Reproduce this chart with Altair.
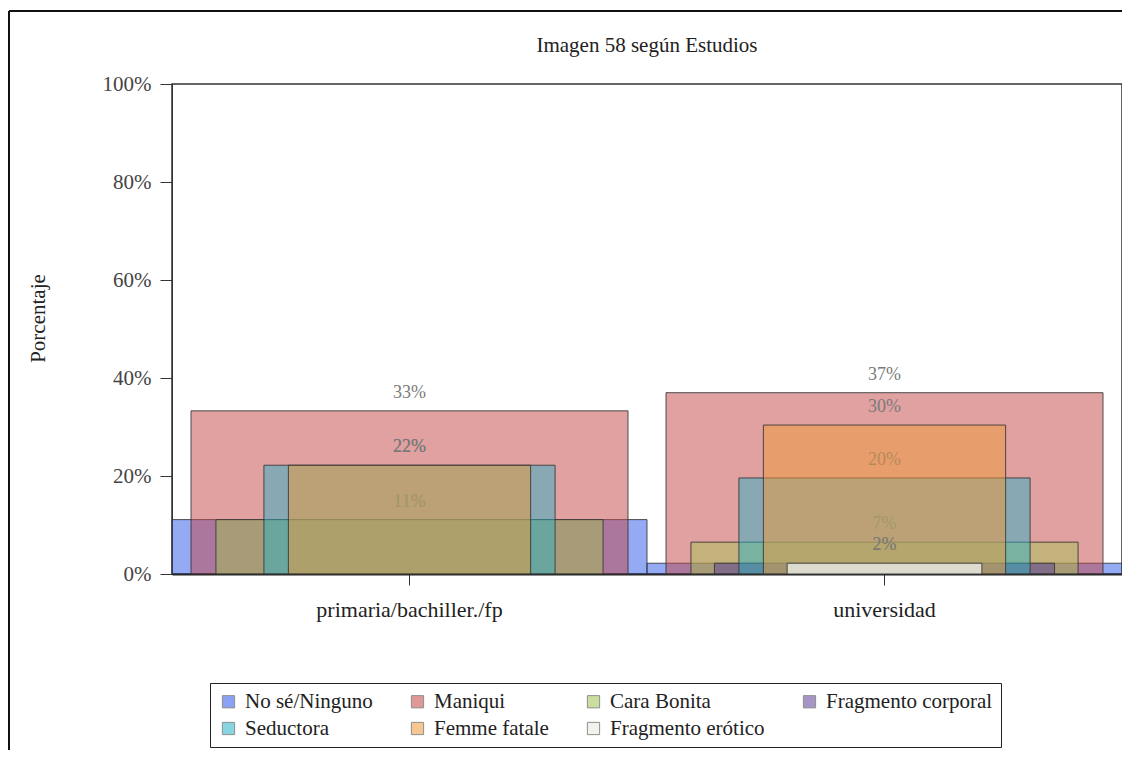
import altair as alt
import pandas as pd

# ---- data ----
groups = ["primaria/bachiller./fp", "universidad"]
series = ["No sé/Ninguno", "Maniqui", "Cara Bonita", "Fragmento corporal",
          "Seductora", "Femme fatale", "Fragmento erótico"]
pct_primaria = [11.1, 33.3, 11.1, 0.0, 22.2, 22.2, 0.0]
pct_universidad = [2.2, 37.0, 6.5, 2.2, 19.6, 30.4, 2.2]
y_ticks = [0, 20, 40, 60, 80, 100]

# ---- styles ----
colors = ["#2a57ea", "#c44444", "#a4c452", "#5e4096", "#28b2c8", "#f09a38", "#e6e8de"]
band_fraction = [1.0, 0.92, 0.815, 0.716, 0.613, 0.51, 0.41]
fill_opacity = [0.5, 0.5, 0.48, 0.5, 0.48, 0.5, 0.85]
FONT = "'Liberation Serif', 'Times New Roman', Times, serif"

rows = []
for g, vals in zip(groups, [pct_primaria, pct_universidad]):
    for s, v in zip(series, vals):
        rows.append({"Estudios": g, "Imagen": s, "Porcentaje": v})
df = pd.DataFrame(rows)

x_enc = alt.X(
    "Estudios:N", sort=groups,
    scale=alt.Scale(paddingInner=0, paddingOuter=0),
    axis=alt.Axis(title=None, labelAngle=0, labelFontSize=22, labelColor="#222",
                  labelFont=FONT, tickSize=11, tickColor="#333", labelPadding=14,
                  labelLimit=500, domainColor="#222", domainWidth=2),
)
y_enc = alt.Y(
    "Porcentaje:Q",
    scale=alt.Scale(domain=[0, 100], nice=False),
    axis=alt.Axis(values=y_ticks, labelExpr="datum.value + '%'", title="Porcentaje",
                  labelFontSize=21, labelColor="#444", labelFont=FONT, tickSize=12,
                  tickColor="#333", labelPadding=9, domainColor="#333", grid=False,
                  titleFont=FONT, titleFontSize=21, titleFontWeight="normal",
                  titleColor="#222", titleX=-134, titleY=234, titleAngle=270,
                  titleAlign="center", titleBaseline="middle"),
)
color_enc = alt.Color(
    "Imagen:N", sort=series,
    scale=alt.Scale(domain=series, range=colors),
    legend=alt.Legend(title=None, orient="none", legendX=38, legendY=599, columns=4,
                      direction="horizontal",
                      strokeColor="#222", fillColor="white", padding=8,
                      labelFont=FONT, labelFontSize=21, labelColor="#222",
                      symbolType="square", symbolSize=150, symbolStrokeColor="#333",
                      symbolStrokeWidth=1, symbolOpacity=0.55, columnPadding=34,
                      rowPadding=5, labelLimit=400, labelOffset=6),
)

base = alt.Chart(df)
layers = []
for i, s in enumerate(series):
    sub = base.transform_filter(alt.datum.Imagen == s).transform_filter(alt.datum.Porcentaje > 0)
    bar = sub.mark_bar(
        width=alt.RelativeBandSize(band_fraction[i]),
        fillOpacity=fill_opacity[i], stroke="#333", strokeWidth=1, strokeOpacity=0.85,
    ).encode(x=x_enc, y=y_enc, color=color_enc)
    txt = sub.transform_calculate(
        label="format(datum.Porcentaje, '.0f') + '%'"
    ).mark_text(
        baseline="bottom", dy=-9, fontSize=18, font=FONT, color="#7a7a7a"
    ).encode(x=x_enc, y=y_enc, text="label:N")
    layers += [bar, txt]

frame_df = pd.DataFrame({"a": [0]})
frame_top = alt.Chart(frame_df).mark_rule(color="#111", strokeWidth=2).encode(
    x=alt.value(-163), x2=alt.value(950), y=alt.value(-73))
frame_left = alt.Chart(frame_df).mark_rule(color="#111", strokeWidth=2).encode(
    x=alt.value(-163), y=alt.value(-73), y2=alt.value(666))
layers += [frame_top, frame_left]

chart = alt.layer(*layers).properties(
    width=950, height=490,
    background="white",
    title=alt.TitleParams("Imagen 58 según Estudios", font=FONT, fontSize=21,
                          fontWeight="normal", color="#222", offset=30, dy=76,
                          anchor="middle", frame="group"),
    autosize=alt.AutoSizeParams(type="none"),
    padding={"left": 164, "top": 76, "right": 0, "bottom": 176},
).configure_view(stroke="#333", strokeWidth=1.5)

chart.save("out.html", embed_options={"renderer": "svg", "actions": False})
